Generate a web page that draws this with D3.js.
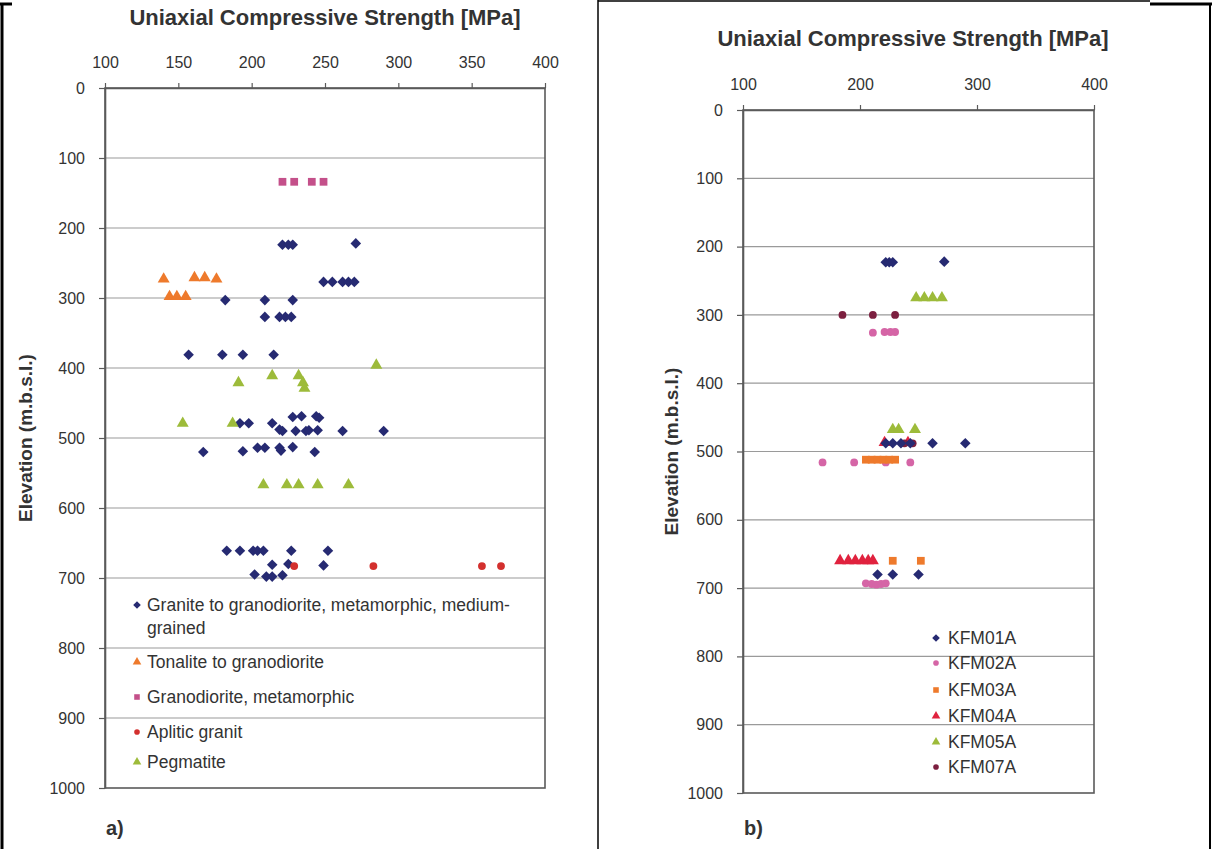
<!DOCTYPE html>
<html>
<head>
<meta charset="utf-8">
<script src="https://cdn.jsdelivr.net/npm/d3@7"></script>
<style>
  html, body { margin: 0; padding: 0; background: #fff; }
  svg { display: block; font-family: "Liberation Sans", Arial, sans-serif; }
</style>
</head>
<body>
<svg id="chart" width="1212" height="849"></svg>
<script>
// ---- Panel a): rock types, [UCS MPa, elevation m] ----
const graniteMedium = [
  [221, 224], [225, 224], [228, 224], [271, 222],
  [249, 277], [255, 277], [262, 277], [266, 277], [270, 277],
  [182, 303], [209, 303], [228, 303],
  [209, 327], [219, 327], [223, 327], [227, 327],
  [157, 381], [180, 381], [194, 381], [215, 381],
  [228, 470], [234, 469], [244, 469], [246, 471],
  [192, 479], [198, 479], [214, 479],
  [219, 488], [221, 490], [230, 490], [237, 490], [239, 489], [245, 489], [262, 490], [290, 490],
  [204, 514], [209, 514], [219, 514], [228, 513],
  [167, 520], [194, 519], [220, 518], [243, 520],
  [183, 661], [192, 661], [201, 661], [204, 661], [208, 661], [227, 661], [252, 661],
  [214, 681], [225, 680], [249, 682],
  [202, 695], [210, 698], [214, 698], [221, 696]
];
const tonalite = [
  [140, 273], [161, 271], [168, 271], [176, 273],
  [144, 298], [149, 298], [155, 298]
];
const granodioriteMeta = [[221, 134], [229, 134], [241, 134], [249, 134]];
const apliticGranit = [[229, 683], [283, 683], [357, 683], [370, 683]];
const pegmatite = [
  [285, 396], [191, 421], [214, 411], [232, 411], [235, 421], [236, 429],
  [153, 479], [187, 479],
  [208, 567], [224, 567], [232, 567], [245, 567], [266, 567]
];

// ---- Panel b): boreholes, [UCS MPa, elevation m] ----
const kfm01a = [
  [222, 223], [225, 223], [228, 223], [272, 222],
  [222, 488], [228, 488], [235, 488], [243, 488], [262, 488], [290, 488],
  [215, 680], [228, 680], [250, 680]
];
const kfm02a = [
  [211, 326], [221, 325], [226, 325], [230, 325],
  [168, 516], [195, 516], [222, 516], [243, 516],
  [205, 693], [210, 694], [214, 695], [218, 694], [222, 693]
];
const kfm03a = [
  [205, 512], [210, 512], [215, 512], [220, 512], [225, 512], [230, 512],
  [228, 660], [252, 660]
];
const kfm04a = [
  [221, 487], [241, 487],
  [183, 660], [190, 660], [196, 660], [202, 660], [207, 660], [211, 660]
];
const kfm05a = [
  [248, 275], [255, 275], [262, 275], [270, 275],
  [228, 468], [233, 468], [247, 468]
];
const kfm07a = [
  [185, 300], [211, 300], [230, 300],
  [238, 488], [245, 488]
];

const ucsDomain = [100, 400];
const elevDomain = [0, 1000];
const ticksA = [100, 150, 200, 250, 300, 350, 400];
const ticksB = [100, 200, 300, 400];
const elevTicks = [0, 100, 200, 300, 400, 500, 600, 700, 800, 900, 1000];

const svg = d3.select("#chart");
svg.append("rect").attr("width", 1212).attr("height", 849).attr("fill", "#fff");

// symbol generators
const shapes = {
  diamond: d3.symbol().type(d3.symbolSquare).size(56),
  triangle: d3.symbol().type(d3.symbolTriangle).size(62),
  square: d3.symbol().type(d3.symbolSquare).size(60),
  circle: d3.symbol().type(d3.symbolCircle).size(48)
};
function marker(g, shape, color, x, y, scale) {
  const s = scale || 1;
  const rot = shape === "diamond" ? " rotate(45)" : "";
  g.append("path")
    .attr("d", shapes[shape]())
    .attr("transform", `translate(${x},${y})${rot} scale(${s})`)
    .attr("fill", color);
}

function panel(cfg) {
  const x = d3.scaleLinear().domain(ucsDomain).range([cfg.x0, cfg.x1]);
  const y = d3.scaleLinear().domain(elevDomain).range([cfg.y0, cfg.y1]);
  const g = svg.append("g");

  // horizontal gridlines
  g.append("g").selectAll("line")
    .data(elevTicks.slice(1, -1))
    .join("line")
    .attr("x1", cfg.x0).attr("x2", cfg.x1)
    .attr("y1", d => y(d)).attr("y2", d => y(d))
    .attr("stroke", "#9a9a9a").attr("stroke-width", 1.2);

  // plot frame
  g.append("rect")
    .attr("x", cfg.x0).attr("y", cfg.y0)
    .attr("width", cfg.x1 - cfg.x0).attr("height", cfg.y1 - cfg.y0)
    .attr("fill", "none").attr("stroke", "#5a5a5a").attr("stroke-width", 1.6);

  // top axis
  const ax = g.append("g").attr("transform", `translate(0,${cfg.y0})`)
    .call(d3.axisTop(x).tickValues(cfg.ticks).tickFormat(d3.format("d"))
      .tickSize(5).tickSizeOuter(0).tickPadding(15));
  // left axis
  const ay = g.append("g").attr("transform", `translate(${cfg.x0},0)`)
    .call(d3.axisLeft(y).tickValues(elevTicks).tickFormat(d3.format("d"))
      .tickSize(6).tickSizeOuter(0).tickPadding(14));
  [ax, ay].forEach(a => {
    a.select(".domain").attr("stroke", "#5a5a5a").attr("stroke-width", 1.6);
    a.selectAll(".tick line").attr("stroke", "#5a5a5a").attr("stroke-width", 1.2);
    a.selectAll(".tick text").attr("fill", "#333").attr("font-size", 16)
      .attr("font-family", "Liberation Sans, Arial, sans-serif");
  });

  // titles
  g.append("text").attr("x", cfg.titleX).attr("y", cfg.titleY)
    .attr("text-anchor", "middle").attr("font-weight", "bold").attr("font-size", 22)
    .attr("fill", "#333").text("Uniaxial Compressive Strength [MPa]");
  g.append("text")
    .attr("transform", `translate(${cfg.yTitleX},${(cfg.y0 + cfg.y1) / 2}) rotate(-90)`)
    .attr("text-anchor", "middle").attr("font-weight", "bold").attr("font-size", 19)
    .attr("fill", "#333").text("Elevation (m.b.s.l.)");
  g.append("text").attr("x", cfg.x0 + 1).attr("y", 835)
    .attr("font-weight", "bold").attr("font-size", 20).attr("fill", "#333").text(cfg.tag);

  // data points
  cfg.series.forEach(s => {
    const sg = g.append("g");
    s.data.forEach(d => marker(sg, s.shape, s.color, x(d[0]), y(d[1])));
  });

  // legend
  const lg = g.append("g");
  cfg.legend.forEach(item => {
    marker(lg, item.shape, item.color, cfg.legendMarkerX, item.y, 0.72);
    item.lines.forEach((t, i) => {
      lg.append("text").attr("x", cfg.legendTextX).attr("y", item.y + 6 + i * 23)
        .attr("font-size", cfg.legendFont).attr("fill", "#333").text(t);
    });
  });
}

const cNavy = "#262a72", cOrange = "#ee7a2c", cMagenta = "#c4508a",
      cRed = "#d3302e", cGreen = "#9dbb3a", cPink = "#d565a6",
      cRedB = "#e0223e", cMaroon = "#7c1f3f";

panel({
  x0: 105, x1: 545, y0: 88, y1: 788, ticks: ticksA,
  titleX: 325, titleY: 25, yTitleX: 32, tag: "a)",
  series: [
    { data: graniteMedium, shape: "diamond", color: cNavy },
    { data: tonalite, shape: "triangle", color: cOrange },
    { data: granodioriteMeta, shape: "square", color: cMagenta },
    { data: apliticGranit, shape: "circle", color: cRed },
    { data: pegmatite, shape: "triangle", color: cGreen }
  ],
  legendMarkerX: 137, legendTextX: 147, legendFont: 17.5,
  legend: [
    { y: 605, shape: "diamond", color: cNavy, lines: ["Granite to granodiorite, metamorphic, medium-", "grained"] },
    { y: 662, shape: "triangle", color: cOrange, lines: ["Tonalite to granodiorite"] },
    { y: 697, shape: "square", color: cMagenta, lines: ["Granodiorite, metamorphic"] },
    { y: 732, shape: "circle", color: cRed, lines: ["Aplitic granit"] },
    { y: 762, shape: "triangle", color: cGreen, lines: ["Pegmatite"] }
  ]
});

panel({
  x0: 743, x1: 1094, y0: 110, y1: 793, ticks: ticksB,
  titleX: 913, titleY: 46, yTitleX: 678, tag: "b)",
  series: [
    { data: kfm02a, shape: "circle", color: cPink },
    { data: kfm03a, shape: "square", color: cOrange },
    { data: kfm04a, shape: "triangle", color: cRedB },
    { data: kfm05a, shape: "triangle", color: cGreen },
    { data: kfm07a, shape: "circle", color: cMaroon },
    { data: kfm01a, shape: "diamond", color: cNavy }
  ],
  legendMarkerX: 936, legendTextX: 948, legendFont: 17.5,
  legend: [
    { y: 638, shape: "diamond", color: cNavy, lines: ["KFM01A"] },
    { y: 663, shape: "circle", color: cPink, lines: ["KFM02A"] },
    { y: 690, shape: "square", color: cOrange, lines: ["KFM03A"] },
    { y: 716, shape: "triangle", color: cRedB, lines: ["KFM04A"] },
    { y: 742, shape: "triangle", color: cGreen, lines: ["KFM05A"] },
    { y: 767, shape: "circle", color: cMaroon, lines: ["KFM07A"] }
  ]
});

// outer frame and panel divider
const frame = svg.append("g").attr("stroke", "#000").attr("fill", "none");
frame.append("line").attr("x1", 2).attr("x2", 2).attr("y1", 4).attr("y2", 849).attr("stroke-width", 3);
frame.append("line").attr("x1", 0).attr("x2", 12).attr("y1", 4).attr("y2", 4).attr("stroke-width", 3);
frame.append("line").attr("x1", 598).attr("x2", 598).attr("y1", 0).attr("y2", 849).attr("stroke-width", 1.5);
frame.append("line").attr("x1", 598).attr("x2", 1150).attr("y1", 1).attr("y2", 1).attr("stroke-width", 1.5);
frame.append("line").attr("x1", 1150).attr("x2", 1212).attr("y1", 4).attr("y2", 4).attr("stroke-width", 3);
frame.append("line").attr("x1", 1210).attr("x2", 1210).attr("y1", 4).attr("y2", 849).attr("stroke-width", 2);
</script>
</body>
</html>
